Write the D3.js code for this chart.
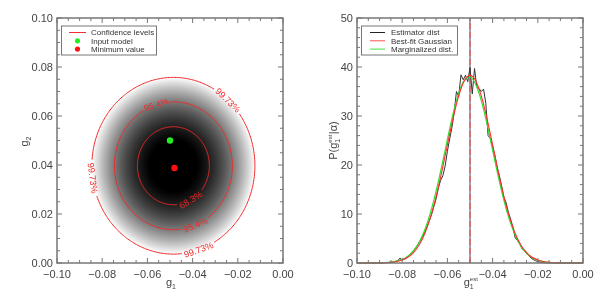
<!DOCTYPE html>
<html><head><meta charset="utf-8">
<script src="https://cdn.jsdelivr.net/npm/d3@7"></script>
<style>
body{margin:0;background:#fff;}
#wrap{position:relative;width:600px;height:300px;}
canvas,svg{position:absolute;left:0;top:0;}
text{font-family:"Liberation Sans",Arial,Helvetica,sans-serif;}
</style>
</head><body>
<div id="wrap"><canvas id="cv" width="600" height="300"></canvas><svg id="sv" width="600" height="300"></svg></div>
<script>
// ---------------- data ----------------
const g1Ticks = [-0.10, -0.08, -0.06, -0.04, -0.02, 0.00];
const g1TickLabels = ["\u22120.10", "\u22120.08", "\u22120.06", "\u22120.04", "\u22120.02", "0.00"];
const g2Ticks = [0.00, 0.02, 0.04, 0.06, 0.08, 0.10];
const g2TickLabels = ["0.00", "0.02", "0.04", "0.06", "0.08", "0.10"];
const pTicks = [0, 10, 20, 30, 40, 50];
const pTickLabels = ["0", "10", "20", "30", "40", "50"];

// left panel: likelihood surface
const confLevels = ["68.3%", "95.4%", "99.73%"];
const deltaChi2 = [2.30, 6.18, 11.8];
const fitCenter = [-0.0485, 0.0397];
const fitSigma = [0.0105, 0.0105];
const labelAngles = [[-61], [107, -68], [48, 188, -72]];   // where contour labels sit (deg)
const inputModel = [-0.050, 0.050];
const minimumValue = [-0.048, 0.0388];
const legendLeft = ["Confidence levels", "Input model", "Minimum value"];

// right panel: distributions of g1 estimator
const gridG1 = d3.range(-0.100, 0.00001, 0.0025);
const bestFitGaussian = [0, 0, 0, 0.01, 0.02, 0.06, 0.13, 0.29, 0.60, 1.16, 2.13, 3.69, 6.03, 9.30, 13.54, 18.60, 24.12, 29.53, 34.12, 37.21, 38.30,
  37.21, 34.12, 29.53, 24.12, 18.60, 13.54, 9.30, 6.03, 3.69, 2.13, 1.16, 0.60, 0.29, 0.13, 0.06, 0.02, 0.01, 0, 0, 0];
const marginalized = [0, 0, 0, 0.01, 0.03, 0.08, 0.17, 0.37, 0.73, 1.39, 2.50, 4.23, 6.78, 10.25, 14.65, 19.78, 25.24, 30.43, 34.67, 37.28, 37.96,
  36.48, 33.13, 28.43, 23.05, 17.66, 12.78, 8.74, 5.65, 3.45, 1.99, 1.09, 0.56, 0.27, 0.12, 0.05, 0.02, 0.01, 0, 0, 0];
const estG1 = d3.range(-0.100, 0.00001, 0.001);
const estimatorDist = [0, 0, 0, 0, 0, 0, 0, 0, 0, 0, 0.01,
  0.02, 0.05, 0.08, 0.12, 0.18, 0.25, 0.32, 0.45, 1.0, 0.6,
  0.8, 1.2, 1.5, 2.0, 2.5, 3.1, 3.8, 4.6, 5.4, 6.3,
  7.4, 8.6, 9.9, 11.5, 13.1, 15.3, 16.9, 17.8, 19.8, 22.8,
  25.3, 27.6, 30.8, 35.0, 34.0, 38.4, 37.4, 38.3, 37.0, 39.9,
  34.5, 39.7, 36.0, 35.6, 35.0, 35.5, 32.6, 26.0, 25.4, 23.8,
  22.0, 19.6, 17.8, 15.7, 13.4, 12.3, 10.3, 8.9, 7.3, 5.1,
  4.6, 4.0, 2.9, 2.7, 2.2, 1.5, 1.0, 0.7, 0.45, 0.3,
  0.18, 0.1, 0.06, 0.03, 0.02,
  0, 0, 0, 0, 0, 0, 0, 0, 0, 0, 0, 0, 0, 0, 0];
const inputG1 = -0.050;
const bestFitG1 = -0.050;
const legendRight = ["Estimator dist", "Best-fit Gaussian", "Marginalized dist."];
const legendRightColors = ["#222", "#ff5050", "#40e040"];

// ---------------- layout ----------------
const svg = d3.select("#sv");
const topY = 18, botY = 263;
const L = {x0: 57, x1: 283};
const R = {x0: 357, x1: 583};
const frameCol = "#777", textCol = "#444";

const xL = d3.scaleLinear().domain([-0.1, 0]).range([L.x0, L.x1]);
const yL = d3.scaleLinear().domain([0, 0.1]).range([botY, topY]);
const xR = d3.scaleLinear().domain([-0.1, 0]).range([R.x0, R.x1]);
const yR = d3.scaleLinear().domain([0, 50]).range([botY, topY]);

// ---------- shading (canvas) ----------
const cv = document.getElementById("cv").getContext("2d");
const img = cv.createImageData(L.x1 - L.x0, botY - topY);
for (let py = 0; py < botY - topY; py++) {
  for (let px = 0; px < L.x1 - L.x0; px++) {
    const gx = xL.invert(L.x0 + px + 0.5), gy = yL.invert(topY + py + 0.5);
    const c2 = Math.pow((gx - fitCenter[0]) / fitSigma[0], 2) + Math.pow((gy - fitCenter[1]) / fitSigma[1], 2);
    let t = (c2 - 1.0) / (deltaChi2[2] - 1.0);
    t = Math.max(0, Math.min(1, t));
    const v = Math.round(255 * t);
    const k = 4 * (py * (L.x1 - L.x0) + px);
    img.data[k] = v; img.data[k + 1] = v; img.data[k + 2] = v; img.data[k + 3] = 255;
  }
}
cv.putImageData(img, L.x0, topY);

// ---------- axes ----------
function minorVals(lo, hi, step, majors) {
  return d3.range(lo, hi + step / 2, step).filter(v => !majors.some(m => Math.abs(m - v) < step / 10));
}
function drawFrame(x, y, xMaj, xMinStep, yMaj, yMinStep, xLabs, yLabs) {
  const g = svg.append("g");
  const [xa, xb] = x.range(), [ya, yb] = y.range();
  const maj = 5, mnr = 3;
  const xMin = minorVals(x.domain()[0], x.domain()[1], xMinStep, xMaj);
  const yMin = minorVals(y.domain()[0], y.domain()[1], yMinStep, yMaj);
  const seg = [];
  xMaj.forEach(v => { seg.push([x(v), ya, x(v), ya - maj]); seg.push([x(v), yb, x(v), yb + maj]); });
  xMin.forEach(v => { seg.push([x(v), ya, x(v), ya - mnr]); seg.push([x(v), yb, x(v), yb + mnr]); });
  yMaj.forEach(v => { seg.push([xa, y(v), xa + maj, y(v)]); seg.push([xb, y(v), xb - maj, y(v)]); });
  yMin.forEach(v => { seg.push([xa, y(v), xa + mnr, y(v)]); seg.push([xb, y(v), xb - mnr, y(v)]); });
  g.selectAll("line.t").data(seg).enter().append("line")
    .attr("x1", d => d[0]).attr("y1", d => d[1]).attr("x2", d => d[2]).attr("y2", d => d[3])
    .attr("stroke", frameCol).attr("stroke-width", 1);
  g.append("rect").attr("x", xa).attr("y", yb).attr("width", xb - xa).attr("height", ya - yb)
    .attr("fill", "none").attr("stroke", frameCol).attr("stroke-width", 1.5);
  g.selectAll("text.xl").data(xMaj).enter().append("text")
    .attr("x", d => x(d)).attr("y", ya + 15).attr("text-anchor", "middle")
    .attr("font-size", 11).attr("fill", textCol).text((d, i) => xLabs[i]);
  g.selectAll("text.yl").data(yMaj).enter().append("text")
    .attr("x", xa - 4).attr("y", d => y(d) + 4).attr("text-anchor", "end")
    .attr("font-size", 11).attr("fill", textCol).text((d, i) => yLabs[i]);
}

// ---------- left panel contents ----------
const gl = svg.append("g");
const lineL = d3.line().x(d => xL(d[0])).y(d => yL(d[1]));
deltaChi2.forEach((dc, li) => {
  const rx = fitSigma[0] * Math.sqrt(dc), ry = fitSigma[1] * Math.sqrt(dc);
  const rpx = xL(fitCenter[0] + rx) - xL(fitCenter[0]);
  const labW = confLevels[li].length * 5.1;
  const gapDeg = (labW / 2 + 1.5) / rpx * 180 / Math.PI;
  const segs = []; let cur = [];
  for (let a = 0; a <= 360; a += 1) {
    const inGap = labelAngles[li].some(la => {
      let d = Math.abs(((a - la) % 360 + 540) % 360 - 180);
      return d < gapDeg;
    });
    if (inGap) { if (cur.length > 1) segs.push(cur); cur = []; continue; }
    const r = a * Math.PI / 180;
    cur.push([fitCenter[0] + rx * Math.cos(r), fitCenter[1] + ry * Math.sin(r)]);
  }
  if (cur.length > 1) segs.push(cur);
  segs.forEach(s => gl.append("path").attr("d", lineL(s)).attr("fill", "none")
    .attr("stroke", "#f02828").attr("stroke-width", 1));
  labelAngles[li].forEach(la => {
    const r = la * Math.PI / 180;
    const px = xL(fitCenter[0] + rx * Math.cos(r)), py = yL(fitCenter[1] + ry * Math.sin(r));
    const tx = -Math.sin(r) * (xL(rx) - xL(0)), ty = -Math.cos(r) * (yL(0) - yL(ry));
    let ang = Math.atan2(ty, tx) * 180 / Math.PI;
    if (ang > 90) ang -= 180; if (ang <= -90) ang += 180;
    gl.append("text").attr("transform", `translate(${px},${py}) rotate(${ang})`)
      .attr("text-anchor", "middle").attr("dy", "0.35em").attr("font-size", 9)
      .attr("fill", "#f02828").text(confLevels[li]);
  });
});
gl.append("circle").attr("cx", xL(inputModel[0])).attr("cy", yL(inputModel[1])).attr("r", 3.2).attr("fill", "#22ee22");
gl.append("circle").attr("cx", xL(minimumValue[0])).attr("cy", yL(minimumValue[1])).attr("r", 3.2).attr("fill", "#ff1010");

drawFrame(xL, yL, g1Ticks, 0.005, g2Ticks, 0.005, g1TickLabels, g2TickLabels);

// left legend
const lg = svg.append("g");
lg.append("rect").attr("x", 61.5).attr("y", 26).attr("width", 95).attr("height", 29)
  .attr("fill", "#fff").attr("stroke", frameCol).attr("stroke-width", 1);
legendLeft.forEach((t, i) => {
  const yy = 32.5 + i * 8.3;
  if (i === 0) lg.append("line").attr("x1", 69).attr("x2", 86).attr("y1", yy).attr("y2", yy).attr("stroke", "#f03030");
  else lg.append("circle").attr("cx", 77.5).attr("cy", yy).attr("r", 2.6).attr("fill", i === 1 ? "#22ee22" : "#ff1010");
  lg.append("text").attr("x", 91).attr("y", yy + 2.8).attr("font-size", 8).attr("fill", "#333").text(t);
});

// ---------- right panel contents ----------
const gr = svg.append("g");
gr.append("line").attr("x1", xR(inputG1)).attr("x2", xR(inputG1)).attr("y1", yR(0)).attr("y2", yR(50))
  .attr("stroke", "#888").attr("stroke-width", 1.5);
gr.append("line").attr("x1", xR(bestFitG1)).attr("x2", xR(bestFitG1)).attr("y1", yR(0)).attr("y2", yR(50))
  .attr("stroke", "#ff4040").attr("stroke-width", 1).attr("stroke-dasharray", "6,3");
const lineE = d3.line().x((d, i) => xR(estG1[i])).y(d => yR(d));
gr.append("path").attr("d", lineE(estimatorDist)).attr("fill", "none").attr("stroke", "#333").attr("stroke-width", 1);
const lineG = d3.line().x((d, i) => xR(gridG1[i])).y(d => yR(d)).curve(d3.curveMonotoneX);
gr.append("path").attr("d", lineG(marginalized)).attr("fill", "none").attr("stroke", "#30e030").attr("stroke-width", 1.2);
gr.append("path").attr("d", lineG(bestFitGaussian)).attr("fill", "none").attr("stroke", "#ff3030").attr("stroke-width", 1.1);

drawFrame(xR, yR, g1Ticks, 0.005, pTicks, 2, g1TickLabels, pTickLabels);

const rg = svg.append("g");
rg.append("rect").attr("x", 361.5).attr("y", 26).attr("width", 96).attr("height", 29)
  .attr("fill", "#fff").attr("stroke", frameCol).attr("stroke-width", 1);
legendRight.forEach((t, i) => {
  const yy = 32.5 + i * 8.3;
  rg.append("line").attr("x1", 370).attr("x2", 385).attr("y1", yy).attr("y2", yy).attr("stroke", legendRightColors[i]);
  rg.append("text").attr("x", 391).attr("y", yy + 2.8).attr("font-size", 8).attr("fill", "#333").text(t);
});

// ---------- axis titles ----------
function composite(parent, parts) {
  const g = parent.append("g");
  let x = 0;
  for (let i = 0; i < parts.length; i++) {
    const p = parts[i];
    const el = g.append("text").attr("x", x).attr("y", p.dy || 0).attr("font-size", p.size).attr("fill", textCol).text(p.t);
    const w = el.node().getComputedTextLength();
    if (p.stack) {
      const q = parts[++i];
      const el2 = g.append("text").attr("x", x).attr("y", q.dy || 0).attr("font-size", q.size).attr("fill", textCol).text(q.t);
      x += Math.max(w, el2.node().getComputedTextLength()) + 0.5;
    } else x += w;
  }
  return {g, w: x};
}
let c = composite(svg, [{t: "g", size: 11}, {t: "1", size: 7, dy: 3}]);
c.g.attr("transform", `translate(${(L.x0 + L.x1) / 2 - c.w / 2 + 1},286)`);
c = composite(svg, [{t: "g", size: 11}, {t: "est", size: 6, dy: -5, stack: true}, {t: "1", size: 7, dy: 3}]);
c.g.attr("transform", `translate(${(R.x0 + R.x1) / 2 - c.w / 2 + 1},286)`);
c = composite(svg, [{t: "g", size: 11}, {t: "2", size: 7, dy: 3}]);
c.g.attr("transform", `translate(28,${(topY + botY) / 2 + c.w / 2 + 1}) rotate(-90)`);
c = composite(svg, [{t: "P(g", size: 11}, {t: "est", size: 6, dy: -5, stack: true}, {t: "1", size: 7, dy: 3}, {t: "|\u03b1)", size: 11}]);
c.g.attr("transform", `translate(337,${(topY + botY) / 2 + c.w / 2}) rotate(-90)`);
</script>
</body></html>
